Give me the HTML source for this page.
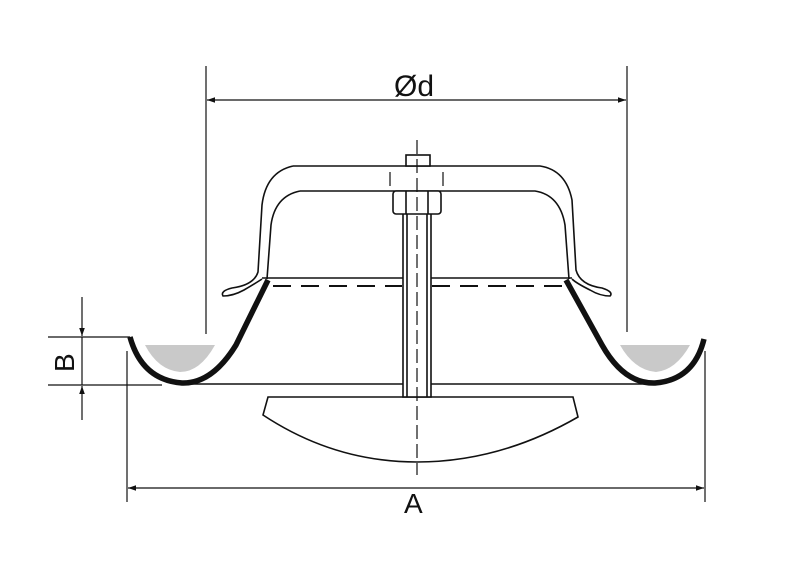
<!DOCTYPE html>
<html><head><style>html,body{margin:0;padding:0;background:#fff}svg{display:block}</style></head>
<body>
<svg width="800" height="562" viewBox="0 0 800 562" xmlns="http://www.w3.org/2000/svg">
<defs>
<marker id="ar" viewBox="0 0 10 10" refX="10" refY="5" markerWidth="14" markerHeight="8" markerUnits="userSpaceOnUse" orient="auto-start-reverse"><path d="M0,1.5 L10,5 L0,8.5 z" fill="#111"/></marker>
</defs>
<g stroke="#111" fill="none" stroke-width="1.2">
<line x1="206" y1="66" x2="206" y2="334"/>
<line x1="627" y1="66" x2="627" y2="332"/>
<line x1="207" y1="100" x2="626" y2="100" marker-start="url(#ar)" marker-end="url(#ar)"/>
<line x1="127" y1="351" x2="127" y2="502"/>
<line x1="705" y1="351" x2="705" y2="502"/>
<line x1="128" y1="488" x2="704" y2="488" marker-start="url(#ar)" marker-end="url(#ar)"/>
<line x1="48" y1="337" x2="130" y2="337"/>
<line x1="48" y1="385" x2="162" y2="385"/>
<line x1="82" y1="297" x2="82" y2="336" marker-end="url(#ar)"/>
<line x1="82" y1="420" x2="82" y2="386" marker-end="url(#ar)"/>
<line x1="82" y1="337" x2="82" y2="385"/>
</g>
<path d="M145,345 L215,345 Q200,372 180,372 Q158,370 145,345 Z" fill="#c9c9c9"/>
<path d="M620,345 L690,345 Q676,370 656,372 Q634,370 620,345 Z" fill="#c9c9c9"/>
<g stroke="#111" fill="none" stroke-width="1.6">
<path d="M293,166 L540,166 Q566,170 572,200 L576,270 Q580,285 602,288 Q614,292 610,296 Q600,296 590,290 Q576,283 572,279"/>
<path d="M293,166 Q266,172 262,205 L258,272 Q254,285 232,288 Q220,291 223,296 Q233,296 244,290 Q256,283 262,279"/>
<path d="M300,191 L535,191 Q560,195 565,225 L569,279"/>
<path d="M300,191 Q275,196 271,225 L267,279"/>
<line x1="262" y1="278" x2="572" y2="278"/>
<line x1="180" y1="384" x2="655" y2="384"/>
<path d="M268,397 L573,397 L578,417 Q500,462 417,462 Q334,462 263,415 Z" fill="#fff"/>
<rect x="403" y="213" width="28" height="184" fill="#fff"/>
<line x1="407" y1="213" x2="407" y2="397"/>
<line x1="427" y1="213" x2="427" y2="397"/>
<rect x="406" y="155" width="24" height="11" fill="#fff"/>
<rect x="393" y="191" width="48" height="23" rx="3" fill="#fff"/>
<line x1="406" y1="191" x2="406" y2="214"/>
<line x1="428" y1="191" x2="428" y2="214"/>
</g>
<g stroke="#111" stroke-width="1.2" fill="none">
<line x1="417" y1="140" x2="417" y2="475" stroke-dasharray="14,5"/>
<line x1="390" y1="172" x2="390" y2="186"/>
<line x1="443" y1="172" x2="443" y2="186"/>
<line x1="273" y1="286" x2="402" y2="286" stroke-width="2" stroke-dasharray="18,10"/>
<line x1="432" y1="286" x2="566" y2="286" stroke-width="2" stroke-dasharray="18,10"/>
</g>
<g stroke="#111" fill="none" stroke-width="5.5">
<path d="M130,337 Q142,380 182,383 Q212,384 236,345 L268,280"/>
<path d="M566,280 L602,345 Q624,384 655,383 Q694,380 704,339"/>
</g>
<g font-family="Liberation Sans, sans-serif" fill="#111">
<text x="394" y="96" font-size="30">Ød</text>
<text x="404" y="513" font-size="28">A</text>
<text transform="translate(74,372) rotate(-90)" font-size="28">B</text>
</g>
</svg>
</body></html>
